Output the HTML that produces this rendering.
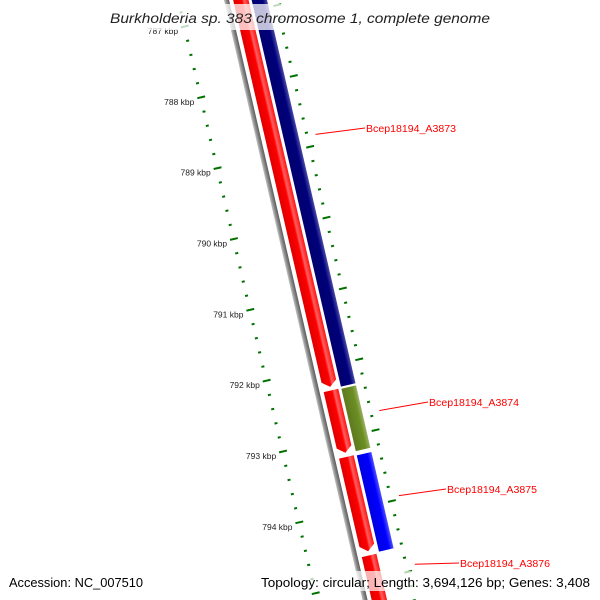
<!DOCTYPE html>
<html><head><meta charset="utf-8"><style>
html,body{margin:0;padding:0;background:#fff;overflow:hidden}
svg{display:block;font-family:"Liberation Sans","DejaVu Sans",sans-serif;overflow:hidden}
</style></head><body>
<svg id="chart" width="600" height="600" viewBox="0 0 600 600" xmlns="http://www.w3.org/2000/svg">
<defs>
<linearGradient id="gRed" x1="0" x2="1" y1="0" y2="0"><stop offset="0" stop-color="#e00000"/><stop offset="0.55" stop-color="#ff0000"/><stop offset="0.7" stop-color="#ff6060"/><stop offset="1" stop-color="#ff1010"/></linearGradient>
<linearGradient id="gNavy" x1="0" x2="1" y1="0" y2="0"><stop offset="0" stop-color="#000070"/><stop offset="0.7" stop-color="#00007a"/><stop offset="1" stop-color="#4a4aa8"/></linearGradient>
<linearGradient id="gOlive" x1="0" x2="1" y1="0" y2="0"><stop offset="0" stop-color="#5e7a20"/><stop offset="0.7" stop-color="#6b8e23"/><stop offset="1" stop-color="#9ab060"/></linearGradient>
<linearGradient id="gBlue" x1="0" x2="1" y1="0" y2="0"><stop offset="0" stop-color="#0000e0"/><stop offset="0.7" stop-color="#0000ff"/><stop offset="1" stop-color="#5050ff"/></linearGradient>
<linearGradient id="gGray" x1="0" x2="1" y1="0" y2="0"><stop offset="0" stop-color="#c8c8c8"/><stop offset="0.4" stop-color="#909090"/><stop offset="1" stop-color="#5a5a5a"/></linearGradient>
</defs>
<g id="local" transform="translate(227,0) rotate(-13)"></g>
<g id="overlay"></g>
<rect x="105" y="4" width="390" height="26" fill="#fff" opacity="0.75"/>
<text x="110" y="23" font-size="14" font-style="italic" fill="#222" textLength="380" lengthAdjust="spacingAndGlyphs">Burkholderia sp. 383 chromosome 1, complete genome</text>
<rect x="0" y="571" width="600" height="20" fill="#fff" opacity="0.7"/>
<text x="9" y="587" font-size="13" fill="#000" textLength="134" lengthAdjust="spacingAndGlyphs">Accession: NC_007510</text>
<text x="261" y="587" font-size="13" fill="#000" textLength="329" lengthAdjust="spacingAndGlyphs">Topology: circular; Length: 3,694,126 bp; Genes: 3,408</text>
</svg>
<script>
// data
const geneNames = ["A3872","Bcep18194_A3873","A3874r","Bcep18194_A3874","A3875r","Bcep18194_A3875","Bcep18194_A3876"];
const geneStart = [784.0, 784.0, 792.33, 792.34, 793.27, 793.28, 794.66];
const geneEnd   = [792.28, 792.31, 793.21, 793.22, 794.60, 794.64, 797.0];
const geneTrack = ["inner","outer","inner","outer","inner","outer","inner"];
const geneColor = ["gRed","gNavy","gRed","gOlive","gRed","gBlue","gRed"];
const geneArrow = [true,false,true,false,true,false,false];
const labelText = ["Bcep18194_A3873","Bcep18194_A3874","Bcep18194_A3875","Bcep18194_A3876"];
const labelAt = [[366,132],[429,406],[447,493],[460,567]];
const labelAnchorKbp = [788.85,792.75,793.95,794.92];
const majorTicks = [787,788,789,790,791,792,793,794];
const minorStart = 786.6, minorEnd = 795.4, minorStep = 0.2;

const NS="http://www.w3.org/2000/svg";
const V0=89, PX=72.7;
function vOf(k){return V0+(k-788)*PX;}
function scr(u,v){const a=-13*Math.PI/180;return [227+u*Math.cos(a)-v*Math.sin(a), u*Math.sin(a)+v*Math.cos(a)];}
const L=document.getElementById('local'), O=document.getElementById('overlay');
function mk(tag,attrs,parent){const e=document.createElementNS(NS,tag);for(const k in attrs)e.setAttribute(k,attrs[k]);parent.appendChild(e);return e;}

const bb=mk('rect',{x:-3,y:-100,width:5,height:800,fill:'url(#gGray)'},L);



const track={inner:[6,21],outer:[24,39]};
for(let i=0;i<geneNames.length;i++){
  const [u0,u1]=track[geneTrack[i]];
  const v0=vOf(geneStart[i]), v1=vOf(geneEnd[i]);
  let d;
  if(geneArrow[i]){const t=6;d=`M${u0},${v0} L${u1},${v0} L${u1},${v1-t} L${(u0+u1)/2},${v1} L${u0},${v1-t} Z`;}
  else d=`M${u0},${v0} L${u1},${v0} L${u1},${v1} L${u0},${v1} Z`;
  const p=mk('path',{d:d,fill:`url(#${geneColor[i]})`},L);
  
  
}
for(let k=minorStart;k<=minorEnd+1e-6;k+=minorStep){
  const kr=Math.round(k*10)/10;
  if(Math.abs(kr-Math.round(kr))<1e-6) continue;
  const v=vOf(kr);
  const a=mk('rect',{x:-49,y:v-1,width:3,height:2,fill:'#007000'},L);
  
  
  const b=mk('rect',{x:46,y:v-1,width:3,height:2,fill:'#007000'},L);
  
  
}
for(const k of majorTicks.concat([795])){
  const v=vOf(k);
  const a=mk('rect',{x:-51,y:v-1,width:8,height:2,fill:'#007000'},L);
  
  
  const b=mk('rect',{x:44,y:v-1,width:8,height:2,fill:'#007000'},L);
  
  
}
for(const k of majorTicks){
  const v=vOf(k);
  const [x,y]=scr(-54,v);
  const t=mk('text',{x:x,y:y+6,'text-anchor':'end','font-size':8.5,fill:'#222'},O);
  t.textContent=k+' kbp';
  
  
}
for(let i=0;i<labelText.length;i++){
  const [x0,y0]=scr(56,vOf(labelAnchorKbp[i]));
  const [lx,ly]=labelAt[i];
  const ln=mk('line',{x1:x0,y1:y0,x2:lx-1,y2:ly-4,stroke:'#f00','stroke-width':1},O);
  
  
  const t=mk('text',{x:lx,y:ly,'font-size':10,fill:'#f00',textLength:90,lengthAdjust:'spacingAndGlyphs'},O);
  t.textContent=labelText[i];
  
  
}
</script>
</body></html>
